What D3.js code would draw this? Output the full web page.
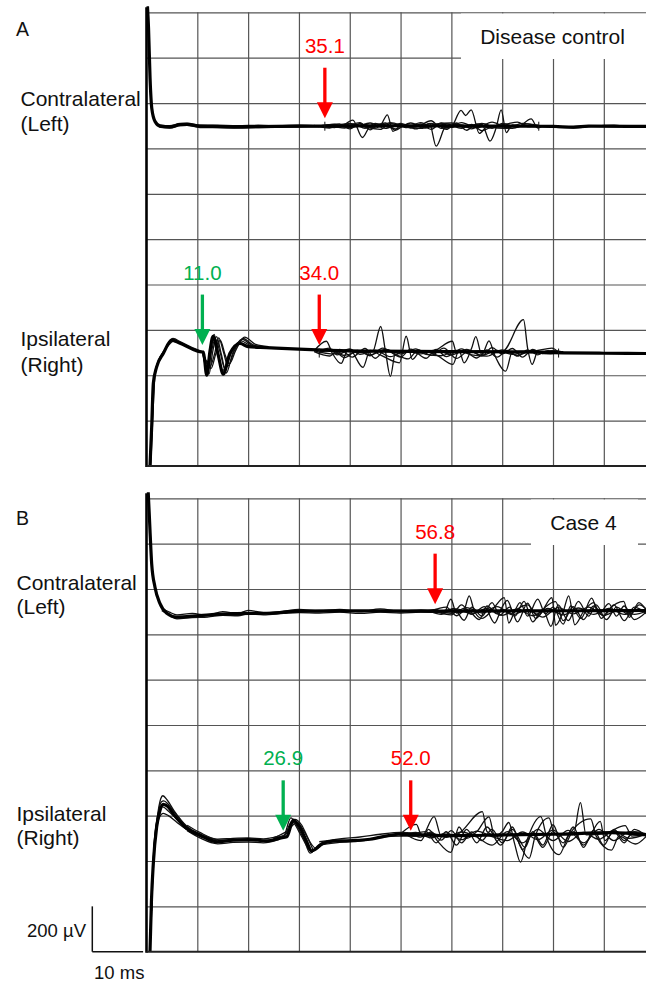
<!DOCTYPE html>
<html>
<head>
<meta charset="utf-8">
<script src="https://cdn.jsdelivr.net/npm/d3@7"></script>
<style>
body { margin: 0; background: #fff; }
svg text { font-family: Arial, "Liberation Sans", sans-serif; }
</style>
</head>
<body>
<svg id="chart" width="646" height="982"></svg>
<script>
// grid: 10 ms per column, 200 uV per row
var timeTicks = [0, 10, 20, 30, 40, 50, 60, 70, 80, 90];
var ampTicks = [0, 200, 400, 600, 800, 1000, 1200, 1400, 1600, 1800, 2000];
var panelNames = ["A", "B"];
var groupNames = ["Disease control", "Case 4"];
var rowNames = { contra: ["Contralateral", "(Left)"], ipsi: ["Ipsilateral", "(Right)"] };
var rowOffsets = { contra: 1500, ipsi: 500 };   // uV, baseline of each row inside a panel

// latencies (ms) marked with arrows
var latencies = [
  { panel: "A", row: "contra", value: 35.1, kind: "late" },
  { panel: "A", row: "ipsi", value: 11.0, kind: "early" },
  { panel: "A", row: "ipsi", value: 34.0, kind: "late" },
  { panel: "B", row: "contra", value: 56.8, kind: "late" },
  { panel: "B", row: "ipsi", value: 26.9, kind: "early" },
  { panel: "B", row: "ipsi", value: 52.0, kind: "late" }
];
// cursor ticks (ms) on the traces
var cursors = [
  { panel: "A", row: "contra", value: 35.1 }, { panel: "A", row: "contra", value: 77.2 },
  { panel: "A", row: "ipsi", value: 34.0 }, { panel: "A", row: "ipsi", value: 81.1 }
];

// traces: [ms, uV] ; base = the dense overlapped band, sweeps = single sweeps
var aContraBase = [[0.1,560],[0.4,430],[0.7,210],[1.05,75],[1.7,18],[2.7,-2],[4.6,-5],[6.6,5],[8,6],[10.5,-2],[13,-3],[17,-5],[22,-4],[30,-2],[40,-1],[50,0],[60,-1],[70,-2],[80,-3],[84,-6],[87,-2],[95,-3],[98.4,-3]];
var aContraSweeps = [
  [[2.5,4],[4.6,0],[6.6,10],[8,11],[10.5,3],[14,2],[18,0],[22,2],[26,-1],[30,3],[34,0]],
  [[2.5,-6],[4.6,-10],[6.6,0],[8,2],[10.5,-8],[14,-8],[18,-10],[22,-8],[26,-7],[30,-6],[34,-5]],
  [[33,-2],[36,3],[38,-6],[40.6,25],[42.5,-52],[44,-4],[46,2],[47.4,48],[48.5,-25],[50,0],[54,-4],[55.7,10],[57,-90],[59,0],[62,-4],[64,2],[66,-3]],
  [[34,-1],[38,8],[40,-14],[42,10],[44,-8],[47,12],[49,-20],[51,4],[53,-6],[56,22],[58,-12],[60,-4],[61.9,68],[62.8,45],[63.9,70],[65.5,-34],[67,-6],[70,-2]],
  [[36,-2],[39,-10],[41,6],[43,-12],[45,10],[48,-8],[50,6],[52,-10],[54,8],[56,-16],[58,12],[60,-8],[62,4],[64,-14],[66,6],[67.6,-68],[68.8,-10],[69.8,70],[70.8,-30],[72,4],[75,-2]],
  [[35,0],[37,6],[39,-4],[42,14],[44,-18],[46,8],[49,-14],[52,12],[55,-10],[57,6],[59,-16],[61,12],[63,-20],[65,8],[68,-12],[70,10],[73,-6],[75.7,30],[77,-10],[78,0]],
  [[34,0],[37,-8],[40,10],[43,-6],[46,-16],[48,10],[51,-8],[54,14],[56,-6],[59,8],[62,-12],[64,6],[66,-22],[68,-4],[71,8],[73,16],[75,-4],[77,4]],
  [[33,2],[36,-10],[39,8],[41,-4],[44,12],[47,-12],[50,10],[53,-14],[56,10],[59,-8],[62,14],[65,-10],[68,16],[71,-8],[74,10],[77,-2]],
  [[34,-4],[37,4],[40,-8],[43,6],[45,-10],[48,14],[51,-4],[54,-12],[57,8],[60,12],[63,-6],[66,10],[69,-10],[72,-12],[75,8],[78,-3]],
  [[77,0],[80,-6],[84,-10],[87,-4],[92,2],[95,-4],[98.4,-2]]
];

var aIpsiBase = [[0.6,-560],[0.69,-500],[1.02,-327],[1.34,-136],[2.0,-63],[3.3,-4],[4.96,55],[6.6,41],[9.2,14],[10.5,4],[11.2,2],[11.85,-100],[12.5,8],[13.1,72],[14.1,-10],[15.1,-95],[16.4,-4],[18.4,40],[20,26],[23.6,22],[30,15],[36,10],[45,6],[60,4],[75,3],[82,-1],[90,-3],[98.4,-4]];
var aIpsiSweeps = [
  [[0.7,-520],[1.15,-300],[1.55,-110],[2.3,-40],[3.5,10],[5.2,62],[6.8,46],[9,22],[10.5,8]],
  [[0.8,-520],[1.25,-280],[1.75,-80],[2.7,-20],[3.9,20],[5.3,50],[7,36],[9.5,10]],
  [[11,3],[12.3,-95],[13.0,0],[13.8,70],[14.7,-5],[15.7,-90],[17,0],[18.8,58],[21,30],[24,24]],
  [[11,4],[12.1,-80],[12.8,5],[13.5,60],[14.5,0],[15.4,-70],[16.8,5],[18.6,52],[20.5,30],[24,22]],
  [[11,2],[12.5,-60],[13.4,-5],[14.2,65],[15.2,-2],[16.0,-60],[17.3,8],[19,62],[21,34],[24,24]],
  [[11,5],[12.0,-40],[12.7,20],[13.3,80],[14.0,10],[15,-80],[16.3,-10],[18.2,45],[20,28]],
  [[11,1],[12.7,-70],[13.6,-8],[14.5,55],[15.5,-12],[16.3,-50],[17.6,12],[19.3,68],[21.5,36],[24,26]],
  [[33,8],[35.4,50],[36.5,0],[38.3,-48],[39.5,5],[42,0],[44.5,4],[46.1,115],[47,10],[48,-105],[49,2],[52,6],[56,4],[60.2,50],[61,0],[63,4],[66,8],[70,4],[74.2,145],[75,20],[75.9,-52],[77,4],[80,6]],
  [[34,6],[36,20],[37.5,-10],[40,12],[42.6,-65],[44,10],[46,-10],[49.8,-45],[51.1,72],[52.3,-30],[54,8],[57,-10],[60.3,-52],[61.5,10],[62.5,-45],[64,20],[64.8,70],[66,-10],[67.4,52],[68.5,-10],[70.7,-82],[72,4],[76,6],[79.8,20],[81,4]],
  [[33,4],[36,-15],[38,14],[40.5,-20],[43,18],[45,-25],[47,12],[50,-20],[52,15],[55,-25],[57,14],[59,-18],[62,16],[65,-24],[67,12],[69,-20],[71,10],[73,-16],[75,12],[77,-10],[79,8],[81,0]],
  [[34,2],[36.5,14],[39,-22],[41.5,10],[44,-14],[46.5,20],[49,-8],[51.5,-28],[53.5,12],[56,-12],[58.5,20],[61,-26],[63.5,8],[66,-14],[68,22],[70,-6],[72,18],[74,-20],[76,14],[78,-4],[80,10],[82,2]],
  [[33,8],[37,-6],[40,16],[42,-8],[45,10],[48,-18],[51,8],[54,-6],[57,12],[60,-10],[63,14],[66,-12],[69,10],[72,-8],[75,6],[78,-4],[82,4]],
  [[34,0],[36,10],[39,-12],[42,6],[44,-10],[47,14],[50,-6],[53,16],[55,-8],[58,-14],[61,10],[64,-10],[67,-16],[70,12],[73,-12],[76,10],[79,-6],[82,2]]
];

var bContraBase = [[0.1,600],[0.35,520],[0.69,358],[1.02,211],[1.67,108],[2.66,35],[3.98,-7],[5.94,-24],[10.5,-17],[17,-9],[23.7,-7],[30.2,2],[36,3],[45,3],[56,2],[70,3],[85,4],[98.4,5]];
var bContraSweeps = [
  [[3,15],[4.5,-2],[6,-14],[9,-8],[12,-16],[15,0],[18,-8],[20,6],[23,-4],[27,2],[30,10],[34,4],[38,10],[42,0],[46,12],[50,2],[54,8],[57,4]],
  [[3,5],[4.5,-14],[6,-32],[9,-26],[12,-24],[15,-16],[18,-18],[20,-10],[23,-14],[27,-8],[30,-4],[34,-6],[38,-2],[42,-8],[46,-2],[50,-6],[54,-2],[57,-3]],
  [[55,2],[57,10],[58.5,-8],[59.9,55],[61,-6],[62.5,8],[63.5,70],[64.5,4],[66,-30],[68,6],[70.4,62],[71.3,-50],[72.5,0],[75,30],[77,-20],[79.8,62],[80.5,-60],[82,0],[83.1,70],[84.3,-58],[86,0],[88,40],[89.5,-30],[91,10],[93.9,45],[95,-25],[96.9,40],[98.4,5]],
  [[56,0],[58,-12],[60.5,14],[62.5,-38],[64,20],[66,-20],[68,40],[69.5,-15],[71.5,20],[73,-45],[75,38],[76.6,-30],[78.5,20],[80.5,44],[82,-40],[84,22],[86,-35],[88,25],[90,-20],[92,30],[94,-40],[96,20],[98.4,-10]],
  [[56,2],[59,20],[61,-18],[63,10],[65.5,-35],[67,25],[69,-10],[71,50],[72.5,-20],[74.3,45],[76,-45],[78,10],[79.6,-65],[81,30],[83,-40],[85,45],[87,-20],[88.5,30],[90.5,-35],[92.5,20],[95,-15],[97,30],[98.4,10]],
  [[57,0],[60,-14],[62,30],[64,-12],[66.5,22],[68.5,-50],[70,10],[72,-10],[73.5,40],[75,-20],[77,55],[78.5,-10],[80,20],[82,-55],[83.5,25],[85.5,-30],[87.6,60],[89,-10],[91,35],[92.5,-20],[94,25],[96,-35],[98.4,0]],
  [[57,-4],[61,12],[64,-10],[67,14],[70,-16],[73,12],[76,-18],[79,14],[82,-14],[85,16],[88,-12],[91,14],[94,-12],[97,10],[98.4,4]],
  [[57,4],[60,-8],[63,18],[66,-6],[69,22],[72,-14],[75,10],[78,-24],[81,18],[84,-10],[87,20],[90,-16],[93,8],[96,-12],[98.4,2]]
];

var bIpsiBase = [[0.6,-560],[0.69,-500],[0.98,-272],[1.34,-111],[2.0,51],[2.66,124],[3.3,150],[4.23,140],[5.27,108],[7.9,44],[10.5,14],[13.8,-15],[17.1,-8],[20,-6],[23.7,-11],[26.3,1],[27.6,7],[28.9,80],[30.2,48],[31.4,-8],[32.5,-55],[34.8,-22],[36.7,-12],[39.3,-11],[44,-4],[49.6,18],[53,16],[60,12],[70,15],[80,18],[91.5,25],[98.4,15]];
var bIpsiSweeps = [
  [[0.9,-400],[1.4,-60],[2.1,90],[2.8,175],[3.2,188],[4.1,168],[5.4,122],[8,52],[10.5,20],[14,-8]],
  [[0.9,-350],[1.5,-40],[2.3,80],[3.0,140],[3.5,136],[4.4,118],[6,84],[8.2,36],[11,8],[14,-18]],
  [[1.0,-320],[1.7,0],[2.5,90],[3.3,110],[4.3,100],[6,70],[8.5,30],[11,6],[14,-20]],
  [[0.9,-380],[1.45,-50],[2.2,95],[2.9,160],[3.4,165],[4.3,150],[5.6,112],[8.1,46],[10.8,12],[14,-12]],
  [[8,58],[10.5,26],[14,-4],[17,0],[20,2],[23,-2],[26,10]],
  [[8,34],[10.5,2],[14,-24],[17,-18],[20,-16],[23,-20],[26,-6]],
  [[25,-5],[27,10],[28.4,90],[29.6,55],[31,-5],[32.2,-65],[33.8,-30],[36,-10]],
  [[25,0],[27.5,20],[29.2,84],[30.5,60],[31.8,0],[33.0,-52],[34.4,-25],[36,-10]],
  [[25,2],[27.8,35],[29.6,70],[30.8,40],[32,-10],[33.4,-45],[35,-20],[37,-8]],
  [[25,-6],[27,5],[28.6,75],[30,30],[31.2,-20],[32.5,-60],[34,-28],[36,-12]],
  [[34,-15],[38,-2],[42,6],[46,18],[50,26],[53,22]],
  [[34,-30],[38,-18],[42,-12],[46,4],[50,10],[53,10]],
  [[50,20],[53.1,62],[54.2,10],[56.6,96],[58,10],[61,16],[66.1,118],[67,30],[69,10],[72,16],[75.3,-88],[76.5,10],[79.2,90],[80.3,20],[84,15],[85.4,158],[86.5,15],[90,20],[94.2,56],[95.5,10],[98.4,18]],
  [[51,18],[54,-10],[55.5,40],[57.2,-10],[59.9,-62],[61.5,50],[63,0],[65,30],[67.4,95],[68.5,10],[70,30],[71.3,70],[72.4,-20],[73.6,-105],[75,0],[77.6,96],[78.8,0],[81.2,-72],[83,10],[87.4,86],[88.5,10],[91.5,-52],[93,10],[96.2,-25],[98.4,10]],
  [[52,16],[55,30],[57,-20],[59,30],[61,-30],[63,40],[65,-20],[67,50],[69.7,-30],[72,40],[74.5,-40],[76,30],[78,-30],[80,60],[82,-40],[84,30],[86,-30],[89.3,75],[90.2,-10],[92,30],[94,-20],[96,40],[98.4,10]],
  [[52,20],[54,5],[56,28],[58,-8],[60,34],[62,-20],[64,28],[66,-10],[68,40],[70,-20],[72,50],[74,-50],[76,20],[78,-40],[80,30],[82,-20],[84,50],[86,-40],[88,36],[90,-30],[92,40],[94,-10],[96,30],[98.4,20]],
  [[50,18],[53,10],[56,22],[59,4],[62,28],[65,6],[68,-30],[71,30],[74,-20],[77,40],[80,-10],[83,35],[86,-20],[89,40],[92,-10],[95,30],[98.4,15]],
  [[50,10],[53,26],[56,2],[59,24],[62,-6],[65,32],[68,8],[71,-10],[74,28],[77,-6],[80,36],[83,-14],[86,26],[89,-4],[92,34],[95,0],[98.4,20]]
];

var traces = {
  A: { contra: { base: aContraBase, sweeps: aContraSweeps }, ipsi: { base: aIpsiBase, sweeps: aIpsiSweeps } },
  B: { contra: { base: bContraBase, sweeps: bContraSweeps }, ipsi: { base: bIpsiBase, sweeps: bIpsiSweeps } }
};

// ---- layout ----
var svg = d3.select("#chart");
var x = d3.scaleLinear().domain([0, 98.4]).range([146.5, 646.5]);
var red = "#ff0000", green = "#00b050";

var layout = {
  A: { top: 12.3, bottom: 466, letterY: 36, labelX: 20.5, box: [461, 13.5, 646, 59],
       rows: { contra: [106, 130.5], ipsi: [346, 371.5] } },
  B: { top: 498.3, bottom: 951.7, letterY: 525, labelX: 16.5, box: [531, 499.5, 638, 545],
       rows: { contra: [590, 614], ipsi: [820.5, 845] } }
};

panelNames.forEach(function (name, i) {
  var p = layout[name];
  var y = d3.scaleLinear().domain([0, 2000]).range([p.bottom, p.top]);
  var g = svg.append("g");

  // vertical grid
  var gx = g.append("g").attr("transform", "translate(0," + p.bottom + ")")
    .call(d3.axisBottom(x).tickValues(timeTicks.slice(1)).tickSize(-(p.bottom - p.top)).tickFormat(""));
  gx.select(".domain").remove();
  gx.selectAll("line").attr("stroke", "#555").attr("stroke-width", 1.2);

  // horizontal grid
  var gy = g.append("g").attr("transform", "translate(" + x(0) + ",0)")
    .call(d3.axisLeft(y).tickValues(ampTicks.slice(1)).tickSize(-(646 - x(0))).tickFormat(""));
  gy.select(".domain").remove();
  gy.selectAll("line").attr("stroke", "#555").attr("stroke-width", 1.2);

  // group tag on a white box
  g.append("rect").attr("x", p.box[0]).attr("y", p.box[1])
    .attr("width", p.box[2] - p.box[0]).attr("height", p.box[3] - p.box[1]).attr("fill", "#fff");
  g.append("text").attr("x", (p.box[0] + p.box[2]) / 2 - 1).attr("y", p.box[1] + 30.5)
    .attr("text-anchor", "middle").attr("font-size", 21).attr("fill", "#111").text(groupNames[i]);

  // panel letter and row labels
  g.append("text").attr("x", 16).attr("y", p.letterY).attr("font-size", 19.5).attr("fill", "#111").text(name);
  ["contra", "ipsi"].forEach(function (row) {
    rowNames[row].forEach(function (s, k) {
      g.append("text").attr("x", p.labelX).attr("y", p.rows[row][k])
        .attr("font-size", 21).attr("fill", "#111").text(s);
    });
  });

  // traces
  var clipId = "clip" + name;
  svg.append("clipPath").attr("id", clipId).append("rect")
    .attr("x", x(0)).attr("y", p.top - 6).attr("width", 646 - x(0)).attr("height", p.bottom - p.top + 6);
  var tg = g.append("g").attr("clip-path", "url(#" + clipId + ")");
  ["contra", "ipsi"].forEach(function (row) {
    var off = rowOffsets[row];
    var line = d3.line()
      .x(function (d) { return x(d[0]); })
      .y(function (d) { return y(off + d[1]); })
      .curve(d3.curveMonotoneX);
    tg.selectAll(null).data(traces[name][row].sweeps).enter().append("path")
      .attr("d", line).attr("fill", "none").attr("stroke", "#111").attr("stroke-width", 1.3);
    tg.append("path").attr("d", line(traces[name][row].base))
      .attr("fill", "none").attr("stroke", "#000").attr("stroke-width", 3.2)
      .attr("stroke-linejoin", "round");
  });

  // cursor ticks
  cursors.filter(function (c) { return c.panel == name; }).forEach(function (c) {
    var yy = y(rowOffsets[c.row]);
    g.append("line").attr("x1", x(c.value)).attr("x2", x(c.value))
      .attr("y1", yy - 4).attr("y2", yy + 5).attr("stroke", "#111").attr("stroke-width", 1);
  });

  // latency arrows
  latencies.filter(function (a) { return a.panel == name; }).forEach(function (a) {
    var col = a.kind == "early" ? green : red;
    var ax = x(a.value), base = y(rowOffsets[a.row]);
    var tip = base - 7.5, tail = base - 58, head = 16;
    g.append("line").attr("x1", ax).attr("x2", ax).attr("y1", tail).attr("y2", tip - head + 1)
      .attr("stroke", col).attr("stroke-width", 3.3);
    g.append("path").attr("d", "M" + (ax - 8) + "," + (tip - head) + "L" + (ax + 8) + "," + (tip - head) + "L" + ax + "," + tip + "Z")
      .attr("fill", col);
    g.append("text").attr("x", ax).attr("y", base - 73).attr("text-anchor", "middle")
      .attr("font-size", 20.5).attr("fill", col).text(a.value.toFixed(1));
  });

  // frame: thick left axis and bottom line
  g.append("line").attr("x1", x(0)).attr("x2", x(0)).attr("y1", p.top - 5).attr("y2", p.bottom + 1)
    .attr("stroke", "#000").attr("stroke-width", 2.6);
  g.append("line").attr("x1", x(0)).attr("x2", 646).attr("y1", p.bottom).attr("y2", p.bottom)
    .attr("stroke", "#222").attr("stroke-width", 2);

  // scale bar under panel B
  if (name == "B") {
    var sx = 92.3, sy = y(0);
    var sb = svg.append("g").attr("stroke", "#111").attr("stroke-width", 1.5).attr("fill", "none");
    sb.append("line").attr("x1", sx).attr("x2", sx).attr("y1", y(200)).attr("y2", sy);
    sb.append("line").attr("x1", sx).attr("x2", sx + x(10) - x(0)).attr("y1", sy).attr("y2", sy);
    svg.append("text").attr("x", 86).attr("y", 936.5).attr("text-anchor", "end")
      .attr("font-size", 18.5).attr("fill", "#111").text("200 \u00b5V");
    svg.append("text").attr("x", 94).attr("y", 978.5)
      .attr("font-size", 18.5).attr("fill", "#111").text("10 ms");
  }
});
</script>
</body>
</html>
